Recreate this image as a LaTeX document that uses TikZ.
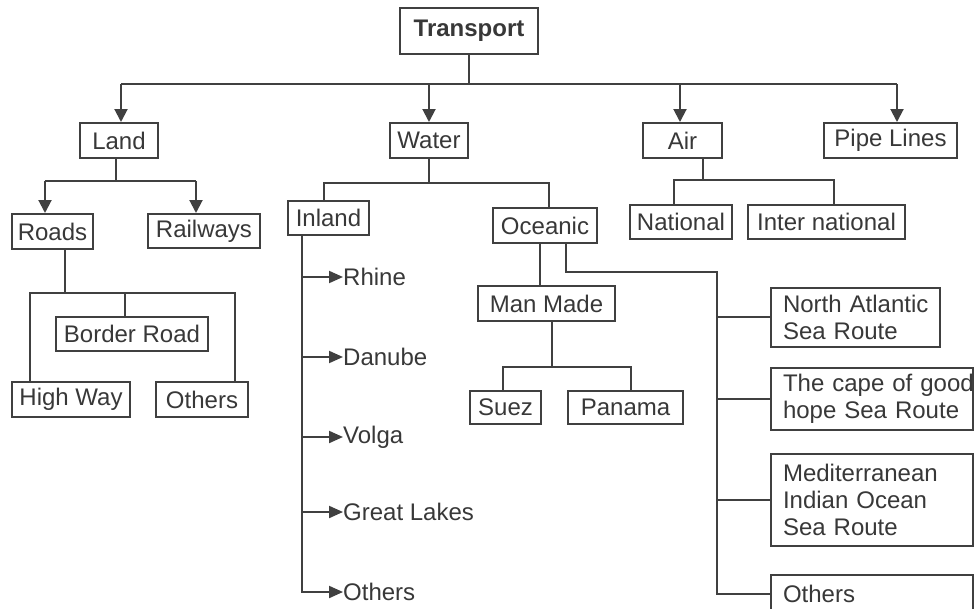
\documentclass[tikz,border=0pt]{standalone}
\usepackage{fontspec}
\setmainfont{Liberation Sans}
\usetikzlibrary{arrows.meta,calc}
\definecolor{ln}{HTML}{404040}
\definecolor{tx}{HTML}{383838}
\newcommand\dfont{\fontsize{24}{27}\selectfont}
\begin{document}
\begin{tikzpicture}[x=1pt,y=-1pt,
  box/.style={draw=ln, line width=2pt, inner sep=0pt, text=tx, font=\dfont},
  lbox/.style={box, align=left},
  lbl/.style={text=tx, inner sep=0pt, anchor=west, font=\dfont},
  con/.style={draw=ln, line width=2pt},
  arr/.style={con, -{Triangle[length=13pt,width=13pt]}},
  sarr/.style={con, -{Triangle[length=14pt,width=12pt]}},
]
\fill[white] (0,0) rectangle (977,608);
\useasboundingbox (0,0) rectangle (977,608);

% nodes
\node[box, minimum width=138pt, minimum height=46pt, font=\bfseries\dfont] (transport) at (469,31) {Transport};
\node[box, minimum width=78pt, minimum height=35pt] (land) at (119,140.5) {Land};
\node[box, minimum width=78pt, minimum height=35pt] (water) at (429,140.5) {Water};
\node[box, minimum width=79pt, minimum height=35pt] (air) at (682.5,140.5) {Air};
\node[box, minimum width=133pt, minimum height=35pt] (pipe) at (890.5,140.5) {Pipe Lines};
\node[box, minimum width=81pt, minimum height=35pt] (roads) at (52.5,231.5) {Roads};
\node[box, minimum width=112pt, minimum height=34pt] (rail) at (204,231) {Railways};
\node[box, minimum width=81pt, minimum height=34pt] (inland) at (328.5,218) {Inland};
\node[box, minimum width=104pt, minimum height=35pt] (ocean) at (545,225.5) {Oceanic};
\node[box, minimum width=102pt, minimum height=34pt] (nat) at (681,222) {National};
\node[box, minimum width=157pt, minimum height=34pt] (intl) at (826.5,222) {Inter national};
\node[box, minimum width=152pt, minimum height=34pt] (border) at (132,334) {Border Road};
\node[box, minimum width=118pt, minimum height=35pt] (hw) at (71,399.5) {High Way};
\node[box, minimum width=92pt, minimum height=35pt] (oth1) at (202,399.5) {Others};
\node[box, minimum width=137pt, minimum height=35pt] (manmade) at (546.5,303.5) {Man Made};
\node[box, minimum width=71pt, minimum height=33pt] (suez) at (505.5,407.5) {Suez};
\node[box, minimum width=115pt, minimum height=33pt] (panama) at (625.5,407.5) {Panama};
\node[lbox, minimum width=169pt, minimum height=59pt, text width=145pt] (na) at (855.5,317) {\mbox{North Atlantic}\\\mbox{Sea Route}};
\node[lbox, minimum width=202pt, minimum height=62pt, text width=178pt] (cape) at (872,399) {\mbox{The cape of good}\\\mbox{hope Sea Route}};
\node[lbox, minimum width=202pt, minimum height=92pt, text width=178pt] (med) at (872,500) {\mbox{Mediterranean}\\\mbox{Indian Ocean}\\\mbox{Sea Route}};
\node[lbox, minimum width=202pt, minimum height=38pt, text width=178pt] (oth2) at (872,594) {Others};

\node[lbl] (rhine) at (343,277) {Rhine};
\node[lbl] (danube) at (343,357) {Danube};
\node[lbl] (volga) at (343,437) {Volga};
\node[lbl] (lakes) at (343,512) {Great Lakes};
\node[lbl] (oth3) at (343,592) {Others};

% Transport
\coordinate (bus) at (469,84);
\draw[con] (transport.south) -- (bus);
\draw[con] ($(land.north|-bus)+(2,0)$) -- ($(pipe.north|-bus)+(6.5,0)$);
\draw[arr] ($(land.north|-bus)+(2,0)$) -- ($(land.north)+(2,0)$);
\draw[arr] (water.north|-bus) -- (water.north);
\draw[arr] ($(air.north|-bus)+(-2.5,0)$) -- ($(air.north)+(-2.5,0)$);
\draw[arr] ($(pipe.north|-bus)+(6.5,0)$) -- ($(pipe.north)+(6.5,0)$);

% Land
\coordinate (lb) at (116,181);
\draw[con] ($(land.south)+(-3,0)$) -- ($(land.south|-lb)+(-3,0)$);
\draw[con] ($(roads.north|-lb)+(-7.5,0)$) -- ($(rail.north|-lb)+(-8,0)$);
\draw[arr] ($(roads.north|-lb)+(-7.5,0)$) -- ($(roads.north)+(-7.5,0)$);
\draw[arr] ($(rail.north|-lb)+(-8,0)$) -- ($(rail.north)+(-8,0)$);

% Water
\coordinate (wb) at (429,183);
\draw[con] (water.south) -- (wb);
\draw[con] ($(inland.north)+(-4.5,0)$) -- ($(inland.north|-wb)+(-4.5,0)$) -- ($(ocean.north|-wb)+(4,0)$) -- ($(ocean.north)+(4,0)$);

% Air
\coordinate (ab) at (703,180);
\draw[con] ($(air.south)+(20.5,0)$) -- ($(air.south|-ab)+(20.5,0)$);
\draw[con] ($(nat.north)+(-7,0)$) -- ($(nat.north|-ab)+(-7,0)$) -- ($(intl.north|-ab)+(7.5,0)$) -- ($(intl.north)+(7.5,0)$);

% Roads
\coordinate (rb) at (65,293);
\draw[con] ($(roads.south)+(12.5,0)$) -- ($(roads.south|-rb)+(12.5,0)$);
\draw[con] ($(hw.north)+(-41,0)$) -- ($(hw.north|-rb)+(-41,0)$) -- ($(oth1.north|-rb)+(33,0)$) -- ($(oth1.north)+(33,0)$);
\draw[con] ($(border.north)+(-7,0)$) -- ($(border.north|-rb)+(-7,0)$);

% Inland rivers
\draw[sarr] ($(inland.south)+(-26.5,0)$) |- (oth3.west);
\draw[sarr] ($(inland.south|-rhine.west)+(-26.5,0)$) -- (rhine.west);
\draw[sarr] ($(inland.south|-danube.west)+(-26.5,0)$) -- (danube.west);
\draw[sarr] ($(inland.south|-volga.west)+(-26.5,0)$) -- (volga.west);
\draw[sarr] ($(inland.south|-lakes.west)+(-26.5,0)$) -- (lakes.west);

% Oceanic
\draw[con] ($(ocean.south)+(-5,0)$) -- ($(manmade.north)+(-6.5,0)$);
\coordinate (ob) at (717,272);
\draw[con] ($(ocean.south)+(21,0)$) |- (ob) |- (oth2.west);
\draw[con] (ob|-na.west) -- (na.west);
\draw[con] (ob|-cape.west) -- (cape.west);
\draw[con] (ob|-med.west) -- (med.west);

% Man Made
\coordinate (mb) at (552,367);
\draw[con] ($(manmade.south)+(5.5,0)$) -- ($(manmade.south|-mb)+(5.5,0)$);
\draw[con] ($(suez.north)+(-2.5,0)$) -- ($(suez.north|-mb)+(-2.5,0)$) -- ($(panama.north|-mb)+(5.5,0)$) -- ($(panama.north)+(5.5,0)$);
\end{tikzpicture}
\end{document}
